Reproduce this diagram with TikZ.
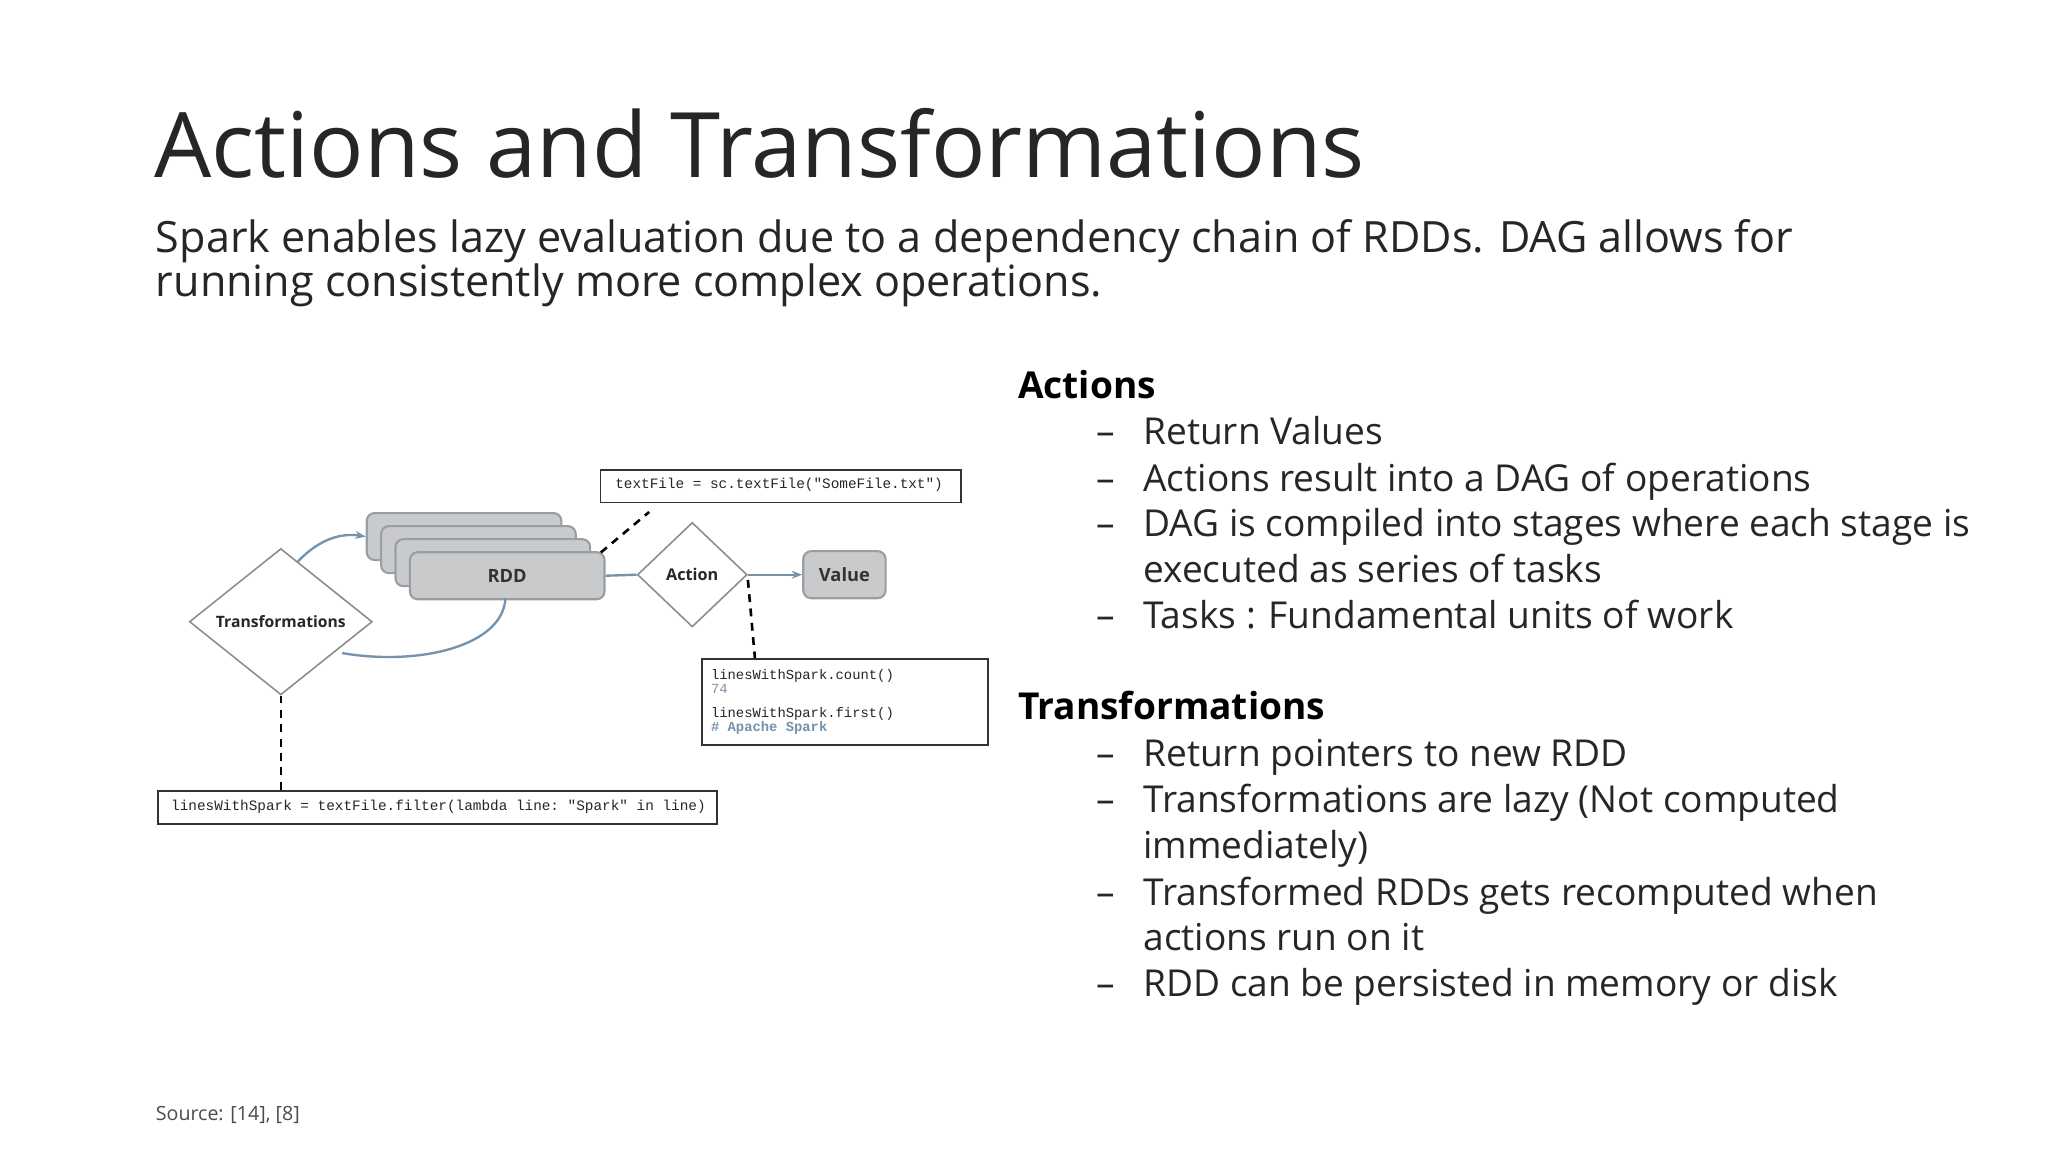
\documentclass[tikz,border=0pt]{standalone}
\usepackage{fontspec}
\setmainfont{Open Sans}
\setmonofont{Liberation Mono}
\usetikzlibrary{shapes.geometric,arrows.meta}
\definecolor{txt}{HTML}{262626}
\definecolor{boxfill}{HTML}{C9CACC}
\definecolor{boxline}{HTML}{9A9EA3}
\definecolor{arr}{HTML}{7592AE}
\tikzset{
  rddbox/.style={draw=boxline,fill=boxfill,rounded corners=3pt,line width=0.8pt,minimum width=74.5pt,minimum height=18pt,anchor=north west},
  codebox/.style={draw=black!80,line width=0.7pt,anchor=north west,inner sep=0pt},
  dia/.style={diamond,draw=black!45,fill=white,line width=0.6pt,inner sep=0pt},
  dsh/.style={dashed,line width=1pt,dash pattern=on 3pt off 2.5pt},
  flow/.style={draw=arr,line width=0.9pt},
  code/.style={font=\ttfamily\fontsize{5.5}{6}\selectfont,text=black!85,anchor=west},
  bullet/.style={anchor=base west,inner sep=0pt,font=\fontsize{14.2}{17}\selectfont,text=txt},
  head/.style={anchor=base west,inner sep=0pt,font=\fontsize{14.2}{17}\selectfont\bfseries,text=black}
}
\begin{document}
\begin{tikzpicture}[x=0.5pt,y=-0.5pt]
\useasboundingbox (0,0) rectangle (1568,882);
\fill[white] (0,0) rectangle (1568,882);
% title
\node[anchor=base west,inner sep=0pt,font=\fontsize{34.6}{40}\selectfont,text=txt] (title) at (118,136) {Actions and Transformations};
\node[anchor=north west,inner sep=0pt,align=left,font=\fontsize{16.5}{16.5}\selectfont,text=txt] (sub) at (119,168) {Spark enables lazy evaluation due to a dependency chain of RDDs. DAG allows for\\running consistently more complex operations.};
% right text
\node[head] (acth) at (779,305) {Actions};
\foreach \y/\t [count=\i] in {340/Return Values,376/Actions result into a DAG of operations,411/DAG is compiled into stages where each stage is,446/executed as series of tasks,481/Tasks : Fundamental units of work}{
  \node[bullet] (a\i) at (875,\y) {\t};}
\foreach \y in {340,376,411,481}{\node[bullet] at (839,\y) {–};}
\node[head] (trh) at (779,551) {Transformations};
\foreach \y/\t [count=\i] in {587/Return pointers to new RDD,622/Transformations are lazy (Not computed,657/immediately),693/Transformed RDDs gets recomputed when,728/actions run on it,763/RDD can be persisted in memory or disk}{
  \node[bullet] (t\i) at (875,\y) {\t};}
\foreach \y in {587,622,693,763}{\node[bullet] at (839,\y) {–};}
\node[anchor=base west,inner sep=0pt,font=\fontsize{7.5}{9}\selectfont,text=black!70] (src) at (119,858) {Source: [14], [8]};
% diagram
\node[rddbox] (r1) at (280,392) {};
\node[rddbox] (r2) at (291,402) {};
\node[rddbox] (r3) at (302,412) {};
\node[rddbox] (rdd) at (313,422) {};
\node[font=\fontsize{7}{8}\selectfont\bfseries,text=black!80] at (rdd.center) {RDD};
\node[dia,minimum width=70pt,minimum height=56pt] (tr) at (215,476) {};
\node[font=\fontsize{6}{7}\selectfont\bfseries,text=black!85] at (tr.center) {Transformations};
\node[dia,minimum width=42pt,minimum height=40pt] (act) at (530,440) {};
\node[font=\fontsize{6.2}{7}\selectfont\bfseries,text=black!85] at (act.center) {Action};
\node[draw=boxline,fill=boxfill,rounded corners=3pt,line width=0.8pt,minimum width=31.5pt,minimum height=18pt,font=\fontsize{7}{8}\selectfont\bfseries,text=black!80] (val) at (646.5,440) {Value};
% arcs
\draw[flow,-{Stealth[length=4pt]}] (228,430) .. controls (245,412) and (262,408) .. (r1.west);
\draw[flow] (262,500) .. controls (320,510) and (385,495) .. (387,458);
\draw[flow] (rdd.east) -- (act.west);
\draw[flow,-{Stealth[length=4pt]}] (act.east) -- (val.west);
% code boxes
\node[codebox,minimum width=138pt,minimum height=12.5pt] (tf) at (459,359) {};
\node[code] at (464,371.5) {textFile = sc.textFile("SomeFile.txt")};
\node[codebox,minimum width=109.5pt,minimum height=33pt] (cnt) at (537,504) {};
\node[code,align=left,anchor=north west,inner sep=0pt,font=\ttfamily\fontsize{5.3}{5.3}\selectfont] at (544,512) {linesWithSpark.count()\\{\color{arr}74}\\[4pt]linesWithSpark.first()\\{\color{arr}\bfseries\# Apache Spark}};
\node[codebox,minimum width=214pt,minimum height=12.5pt] (flt) at (120,605) {};
\node[code] at (124,617.5) {linesWithSpark = textFile.filter(lambda line: "Spark" in line)};
% dashed connectors
\coordinate (c1) at (497,392);
\draw[dsh] (460,423) -- (c1);
\draw[dsh] (act.east) ++(0,4) -- (578,504);
\draw[dsh] (tr.south) -- (215,605);
\end{tikzpicture}
\end{document}
